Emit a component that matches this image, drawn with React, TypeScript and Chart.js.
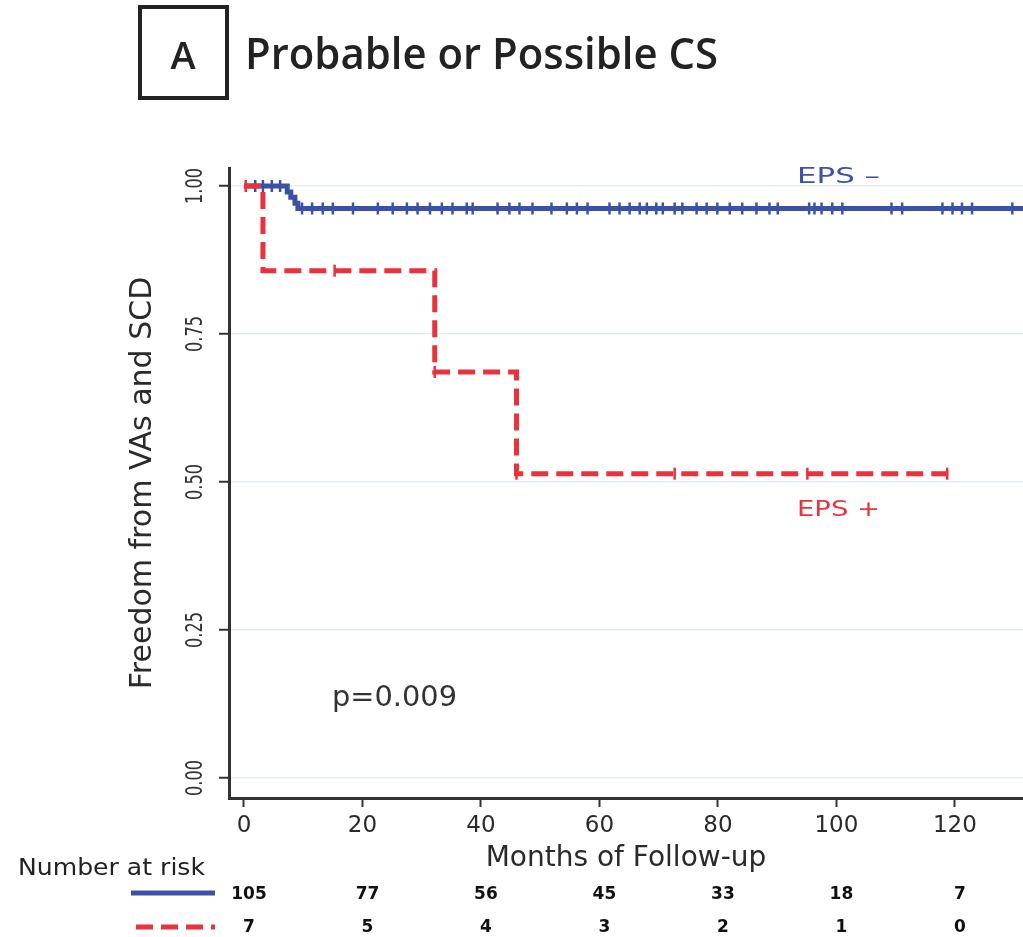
import { useEffect, useRef } from "react";
import { Chart, registerables } from "chart.js";

Chart.register(...registerables);

// ---------- data ----------
const panelLetter = "A";
const panelTitle = "Probable or Possible CS";
const yAxisTitle = "Freedom from VAs and SCD";
const xAxisTitle = "Months of Follow-up";
const riskTitle = "Number at risk";
const negLabel = "EPS \u2013";
const posLabel = "EPS +";
const pValueText = "p=0.009";

const xTickValues = [0, 20, 40, 60, 80, 100, 120];
const yTickValues = [0, 0.25, 0.5, 0.75, 1];
const yTickLabels = ["0.00", "0.25", "0.50", "0.75", "1.00"];

// EPS - (blue, solid): step times and survival
const negTimes = [0, 7.3, 7.9, 8.6, 9.1, 132];
const negSurv = [1, 0.99, 0.981, 0.971, 0.962, 0.962];
const negCensorTimes = [
  1.9, 3.2, 4.7, 6.1, 9.8, 11.5, 13.3, 15, 18.4, 22.6, 25.1, 27.5, 29.3, 31.4,
  33.4, 35.2, 37.6, 38.6, 42.8, 44.8, 46.5, 48.7, 51.9, 54.5, 56.2, 58.0, 61.7,
  63.4, 65.1, 66.8, 68.0, 69.6, 70.7, 72.7, 74.0, 76.4, 78.1, 79.9, 82.0, 84.1,
  86.5, 88.7, 90.1, 95.4, 96.3, 97.5, 99.3, 101.0, 109.3, 111.1, 117.9, 119.6,
  121.2, 122.9, 129.7,
];

// EPS + (red, dashed)
const posTimes = [0, 3.2, 32.2, 46.0, 120.2];
const posSurv = [1, 0.857, 0.686, 0.514, 0.514];
const posCensorTimes = [0.3, 15.3, 32.2, 46.0, 72.7, 95.1, 118.7];

// number at risk at each x tick
const riskNeg = ["105", "77", "56", "45", "33", "18", "7"];
const riskPos = ["7", "5", "4", "3", "2", "1", "0"];

// ---------- style ----------
const BLUE = "#3c51a6";
const RED = "#e8333d";
const DARK = "#2a2a2a";
const FONT = "'DejaVu Sans', sans-serif";
const DASH = [17, 8];

function survAt(times: number[], surv: number[], t: number) {
  let s = surv[0];
  for (let i = 0; i < times.length; i++) if (times[i] <= t) s = surv[i];
  return s;
}

function fitText(
  ctx: CanvasRenderingContext2D,
  text: string,
  left: number,
  baseline: number,
  width: number
) {
  const w = ctx.measureText(text).width;
  ctx.save();
  ctx.translate(left, baseline);
  ctx.scale(width / w, 1);
  ctx.textAlign = "left";
  ctx.textBaseline = "alphabetic";
  ctx.fillText(text, 0, 0);
  ctx.restore();
}

const overlayPlugin = {
  id: "overlay",
  afterDraw(chart: any) {
    const ctx: CanvasRenderingContext2D = chart.ctx;
    const xs = chart.scales.x;
    const ys = chart.scales.y;
    ctx.save();

    // panel box + letter
    ctx.strokeStyle = "#222";
    ctx.lineWidth = 4;
    ctx.strokeRect(140, 7, 87, 91);
    ctx.fillStyle = "#222";
    ctx.font = "600 38px 'Open Sans', sans-serif";
    ctx.textAlign = "center";
    ctx.textBaseline = "alphabetic";
    ctx.fillText(panelLetter, 183, 69);

    // panel title
    ctx.font = "600 44px 'Open Sans', sans-serif";
    fitText(ctx, panelTitle, 245, 69, 473);

    // y tick labels (rotated)
    ctx.fillStyle = "#333";
    ctx.font = `23px ${FONT}`;
    yTickValues.forEach((v, i) => {
      const py = ys.getPixelForValue(v);
      const txt = yTickLabels[i];
      const w = ctx.measureText(txt).width;
      ctx.save();
      ctx.translate(196, py);
      ctx.rotate(-Math.PI / 2);
      ctx.scale(36 / w, 1);
      ctx.textAlign = "center";
      ctx.textBaseline = "middle";
      ctx.fillText(txt, 0, 0);
      ctx.restore();
    });

    // curve labels
    ctx.font = `22px ${FONT}`;
    ctx.fillStyle = BLUE;
    fitText(ctx, negLabel, 797, 183, 83);
    ctx.fillStyle = RED;
    fitText(ctx, posLabel, 797, 516, 83);

    // p-value
    ctx.fillStyle = "#333";
    ctx.font = `28px ${FONT}`;
    fitText(ctx, pValueText, 332, 706, 125);

    // number at risk
    ctx.fillStyle = "#222";
    ctx.font = `23px ${FONT}`;
    fitText(ctx, riskTitle, 18, 875, 187);

    ctx.lineCap = "butt";
    ctx.strokeStyle = BLUE;
    ctx.lineWidth = 5;
    ctx.beginPath();
    ctx.moveTo(131, 893);
    ctx.lineTo(215, 893);
    ctx.stroke();
    ctx.strokeStyle = RED;
    ctx.setLineDash(DASH);
    ctx.beginPath();
    ctx.moveTo(136, 927);
    ctx.lineTo(215, 927);
    ctx.stroke();
    ctx.setLineDash([]);

    ctx.fillStyle = "#111";
    ctx.font = `600 17px ${FONT}`;
    ctx.textAlign = "center";
    ctx.textBaseline = "middle";
    xTickValues.forEach((v, i) => {
      const px = xs.getPixelForValue(v) + 5;
      ctx.fillText(riskNeg[i], px, 895);
      ctx.fillText(riskPos[i], px, 928);
    });

    ctx.restore();
  },
};

export default function App() {
  const ref = useRef<HTMLCanvasElement | null>(null);

  useEffect(() => {
    if (!ref.current) return;
    const negPts = negTimes.map((t, i) => ({ x: t, y: negSurv[i] }));
    const posPts = posTimes.map((t, i) => ({ x: t, y: posSurv[i] }));
    const negCens = negCensorTimes.map((t) => ({ x: t, y: survAt(negTimes, negSurv, t) }));
    const posCens = posCensorTimes.map((t) => ({ x: t, y: survAt(posTimes, posSurv, t) }));

    const chart = new Chart(ref.current, {
      type: "line",
      data: {
        datasets: [
          {
            label: "EPS + censored",
            data: posCens,
            showLine: false,
            pointStyle: "line",
            rotation: 90,
            pointRadius: 6,
            pointBorderWidth: 2.5,
            pointBorderColor: RED,
            pointBackgroundColor: RED,
            order: 0,
          },
          {
            label: "EPS +",
            data: posPts,
            stepped: true,
            borderColor: RED,
            borderWidth: 5,
            borderDash: DASH,
            pointRadius: 0,
            fill: false,
            order: 0,
          },
          {
            label: "EPS - censored",
            data: negCens,
            showLine: false,
            pointStyle: "line",
            rotation: 90,
            pointRadius: 6,
            pointBorderWidth: 2.5,
            pointBorderColor: BLUE,
            pointBackgroundColor: BLUE,
            order: 1,
          },
          {
            label: "EPS -",
            data: negPts,
            stepped: true,
            borderColor: BLUE,
            borderWidth: 5,
            pointRadius: 0,
            fill: false,
            order: 1,
          },
        ],
      } as any,
      options: {
        animation: false,
        responsive: false,
        events: [],
        layout: { autoPadding: false, padding: { top: 168, left: 0, right: 0, bottom: 0 } },
        plugins: { legend: { display: false }, tooltip: { enabled: false } },
        scales: {
          x: {
            type: "linear",
            min: -2.53,
            max: 131.5,
            afterBuildTicks: (s: any) => {
              s.ticks = xTickValues.map((v) => ({ value: v }));
            },
            afterFit: (s: any) => {
              s.height = 139;
              s.paddingRight = 0;
              s.paddingLeft = 0;
            },
            grid: {
              drawOnChartArea: false,
              drawTicks: true,
              tickLength: 9,
              tickColor: "#333",
              tickWidth: 2,
            },
            border: { display: true, color: "#333", width: 3 },
            ticks: {
              font: { family: FONT, size: 23 },
              color: DARK,
              padding: 5,
              maxRotation: 0,
              autoSkip: false,
            },
            title: {
              display: true,
              text: xAxisTitle,
              font: { family: FONT, size: 28 },
              color: DARK,
              padding: { top: 61, bottom: 61 },
            },
          },
          y: {
            type: "linear",
            min: -0.0338,
            max: 1.0304,
            afterBuildTicks: (s: any) => {
              s.ticks = yTickValues.map((v) => ({ value: v }));
            },
            afterFit: (s: any) => {
              s.width = 229;
              s.paddingTop = 0;
              s.paddingBottom = 0;
            },
            grid: {
              color: "#e1eef1",
              lineWidth: 1.5,
              drawTicks: true,
              tickLength: 10,
              tickColor: "#333",
              tickWidth: 2,
            },
            border: { display: true, color: "#333", width: 3 },
            ticks: {
              color: "rgba(0,0,0,0)",
              font: { family: FONT, size: 22 },
            },
            title: {
              display: true,
              text: yAxisTitle,
              font: { family: FONT, size: 30 },
              color: DARK,
              padding: { top: 125, bottom: 125 },
            },
          },
        },
      } as any,
      plugins: [overlayPlugin],
    });
    return () => chart.destroy();
  }, []);

  return (
    <div style={{ position: "absolute", left: 0, top: 0, width: 1023, height: 937, background: "#fff" }}>
      <canvas ref={ref} width={1023} height={937} style={{ display: "block" }} />
    </div>
  );
}
